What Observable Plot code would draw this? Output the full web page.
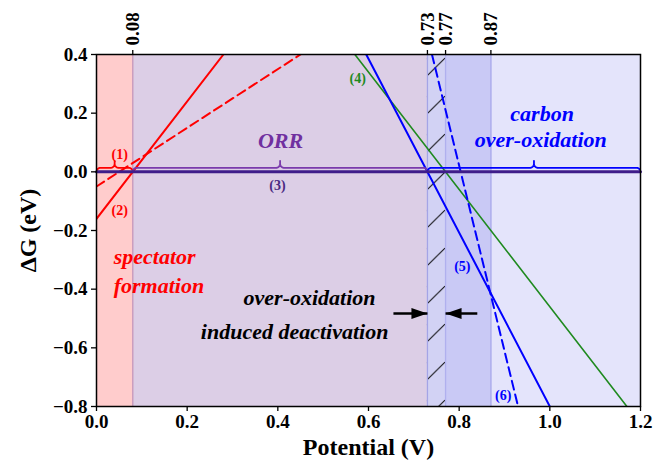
<!DOCTYPE html>
<html><head><meta charset="utf-8">
<script src="https://cdn.jsdelivr.net/npm/d3@7"></script>
<script src="https://cdn.jsdelivr.net/npm/@observablehq/plot@0.6"></script>
<style>
@font-face { font-family: "RefSerif"; src: local("Liberation Serif Bold"), local("LiberationSerif-Bold"); font-weight: 700; font-style: normal; }
@font-face { font-family: "RefSerif"; src: local("Liberation Serif Bold Italic"), local("LiberationSerif-BoldItalic"); font-weight: 700; font-style: italic; }
html,body{margin:0;padding:0;background:#fff;}
#chart{width:654px;height:466px;}
svg, svg g, svg text { font-family: "Liberation Serif", RefSerif, serif !important; }
</style></head><body><div id="chart"></div>
<script>
// ---- data ----
const xTicks = [0, 0.2, 0.4, 0.6, 0.8, 1.0, 1.2];
const yTicks = [-0.8, -0.6, -0.4, -0.2, 0, 0.2, 0.4];
const boundaryTicks = [0.08, 0.73, 0.77, 0.87];
const regionStart = [0, 0.08, 0.73, 0.77, 0.87];
const regionEnd = [0.08, 0.73, 0.77, 0.87, 1.2];
const lineNames = ["(1)", "(2)", "(3)", "(4)", "(5)", "(6)"];
const lineU0 = [0, 0, 0, 0.57, 0.595, 0.74];
const lineG0 = [-0.05, -0.16, 0, 0.4, 0.4, 0.4];
const lineU1 = [0.45, 0.28, 1.2, 1.17, 1.0, 0.93];
const lineG1 = [0.4, 0.4, 0, -0.8, -0.8, -0.8];
const labelU = [0.051, 0.051, 0.399, 0.576, 0.807, 0.897];
const labelG = [0.058, -0.132, -0.047, 0.318, -0.323, -0.763];
const braceStart = [0, 0.08, 0.73];
const braceEnd = [0.08, 0.73, 1.2];
const noteText = ["ORR", "carbon", "over-oxidation", "spectator", "formation", "over-oxidation", "induced deactivation"];
const noteU = [0.406, 0.983, 0.98, 0.038, 0.038, 0.47, 0.437];
const noteG = [0.104, 0.196, 0.107, -0.291, -0.39, -0.43, -0.547];
const arrowFrom = [0.655, 0.84];
const arrowTo = [0.73, 0.77];
const arrowG = [-0.483, -0.483];

// ---- styles ----
const W = 654, H = 466, mL = 96, mR = 14, mT = 54, mB = 60;
const FONT = "Liberation Serif, RefSerif, serif";
const regionFills = ["#ffcccc", "#dccee6", "#d2d2f4", "#c9c9f5", "#e4e4fb"];
const ruleColors = ["#c896b8", "#a4a4e6", "#b0b0ee", "#a0a0ea"];
const lineColors = ["#ff0000", "#ff0000", "#3f1d8a", "#1f8a1f", "#0000ff", "#0000ff"];
const lineDash = ["9,5", null, null, null, null, "9,5"];
const lineWidths = [2, 2, 3, 1.6, 2, 2];
const labelColors = ["#ff0000", "#ff0000", "#4b2a82", "#1f8a1f", "#0000ff", "#0000ff"];
const braceColors = ["#ff0000", "#7a3aac", "#0000ff"];
const noteColors = ["#7030a0", "#0000ff", "#0000ff", "#ff0000", "#ff0000", "#000000", "#000000"];
const noteAnchor = ["middle", "middle", "middle", "start", "start", "middle", "middle"];

const kx = 1.2 / (W - mL - mR), ky = 1.2 / (H - mT - mB);
function bracePoints(a, b) {
  const r = 4, hF = 4, hC = 11, m = (a + b) / 2, pts = [], n = 8;
  const P = (x, px, py) => pts.push({u: x + px * kx, g: py * ky});
  for (let i = 0; i <= n; i++) { const t = i / n * Math.PI / 2; P(a, r - r * Math.cos(t), r * Math.sin(t)); }
  for (let i = 0; i <= n; i++) { const t = i / n * Math.PI / 2; P(m, -r + r * Math.sin(t), hF + r - r * Math.cos(t)); }
  P(m, 0, hC);
  for (let i = n; i >= 0; i--) { const t = i / n * Math.PI / 2; P(m, r - r * Math.sin(t), hF + r - r * Math.cos(t)); }
  for (let i = n; i >= 0; i--) { const t = i / n * Math.PI / 2; P(b, -(r - r * Math.cos(t)), r * Math.sin(t)); }
  return pts;
}
const headRight = {draw(ctx) { ctx.moveTo(0, 0); ctx.lineTo(-16, -5.5); ctx.lineTo(-16, 5.5); ctx.closePath(); }};

const marks = [];
regionStart.forEach((a, i) => {
  marks.push(Plot.rect([{x1: a, x2: regionEnd[i]}], {x1: "x1", x2: "x2", y1: -0.8, y2: 0.4, fill: regionFills[i]}));
});
marks.push(Plot.rect([{x1: regionStart[2], x2: regionEnd[2]}], {x1: "x1", x2: "x2", y1: -0.8, y2: 0.4, fill: "url(#hatch)"}));
boundaryTicks.forEach((b, i) => marks.push(Plot.ruleX([b], {stroke: ruleColors[i], strokeWidth: 1.3})));
lineNames.forEach((nm, i) => {
  const opts = {x: "u", y: "g", stroke: lineColors[i], strokeWidth: lineWidths[i], clip: true};
  if (lineDash[i]) opts.strokeDasharray = lineDash[i];
  if (i !== 2) marks.push(Plot.line([{u: lineU0[i], g: lineG0[i]}, {u: lineU1[i], g: lineG1[i]}], opts));
});
braceStart.forEach((a, i) => {
  marks.push(Plot.line(bracePoints(a, braceEnd[i]), {x: "u", y: "g", stroke: braceColors[i], strokeWidth: 1.8, clip: true}));
});
marks.push(Plot.line([{u: lineU0[2], g: lineG0[2]}, {u: lineU1[2], g: lineG1[2]}], {x: "u", y: "g", stroke: lineColors[2], strokeWidth: lineWidths[2]}));
lineNames.forEach((nm, i) => {
  marks.push(Plot.text([{u: labelU[i], g: labelG[i], t: nm}], {x: "u", y: "g", text: "t", fill: labelColors[i], fontSize: 14, fontWeight: "bold", fontFamily: FONT}));
});
noteText.forEach((t, i) => {
  marks.push(Plot.text([{u: noteU[i], g: noteG[i], t}], {x: "u", y: "g", text: "t", fill: noteColors[i], fontSize: 22, fontWeight: "bold", fontStyle: "italic", fontFamily: FONT, textAnchor: noteAnchor[i]}));
});
arrowFrom.forEach((a, i) => {
  marks.push(Plot.link([{a, b: arrowTo[i], g: arrowG[i]}], {x1: "a", x2: "b", y1: "g", y2: "g", stroke: "black", strokeWidth: 2.5}));
  marks.push(Plot.dot([{b: arrowTo[i], g: arrowG[i]}], {x: "b", y: "g", symbol: headRight, rotate: a < arrowTo[i] ? 0 : 180, fill: "black", stroke: "none", r: 5}));
});
marks.push(Plot.frame({stroke: "black", strokeWidth: 1.5}));
marks.push(Plot.axisX({ticks: xTicks, tickFormat: d3.format(".1f"), tickSize: 5, tickPadding: 3, label: null, strokeWidth: 1.3, fontFamily: FONT}));
marks.push(Plot.axisY({ticks: yTicks, tickFormat: d3.format(".1f"), tickSize: 5, tickPadding: 4, label: null, strokeWidth: 1.3, fontFamily: FONT}));
marks.push(Plot.axisX({anchor: "top", ticks: boundaryTicks, tickFormat: d3.format(".2f"), tickRotate: -90, tickSize: 5, tickPadding: 4, label: null, strokeWidth: 1.3, fontFamily: FONT}));
marks.push(Plot.text(["Potential (V)"], {text: d => d, frameAnchor: "bottom", lineAnchor: "middle", dy: 41, fontSize: 24, fontWeight: "bold", fontFamily: FONT}));
marks.push(Plot.text(["ΔG (eV)"], {text: d => d, frameAnchor: "left", textAnchor: "middle", lineAnchor: "middle", rotate: -90, dx: -68, fontSize: 24, fontWeight: "bold", fontFamily: FONT}));

const chart = Plot.plot({
  width: W, height: H,
  marginLeft: mL, marginRight: mR, marginTop: mT, marginBottom: mB,
  x: {domain: [0, 1.2]},
  y: {domain: [-0.8, 0.4]},
  style: {fontWeight: "bold", fontSize: "19px", color: "black", background: "white", overflow: "visible"},
  marks
});
chart.setAttribute("font-family", FONT);
chart.style.setProperty("font-family", FONT, "important");
chart.querySelectorAll("g, text, tspan").forEach(el => {
  el.setAttribute("font-family", FONT);
  el.style.setProperty("font-family", FONT, "important");
});

// hatch pattern for the 0.73–0.77 band
const ns = "http://www.w3.org/2000/svg";
let px0 = mL + regionStart[2] / kx, px1 = mL + regionEnd[2] / kx;
try { const sx = chart.scale("x"); px0 = sx.apply(regionStart[2]); px1 = sx.apply(regionEnd[2]); } catch (e) {}
const defs = document.createElementNS(ns, "defs");
const pat = document.createElementNS(ns, "pattern");
pat.setAttribute("id", "hatch");
pat.setAttribute("patternUnits", "userSpaceOnUse");
pat.setAttribute("x", px0); pat.setAttribute("y", 48);
pat.setAttribute("width", px1 - px0); pat.setAttribute("height", 38);
const p = document.createElementNS(ns, "path");
p.setAttribute("d", `M0,28 L${px1 - px0},10`);
p.setAttribute("stroke", "#000"); p.setAttribute("stroke-width", "1"); p.setAttribute("fill", "none");
pat.appendChild(p); defs.appendChild(pat);
chart.insertBefore(defs, chart.firstChild);
document.getElementById("chart").appendChild(chart);
</script></body></html>
